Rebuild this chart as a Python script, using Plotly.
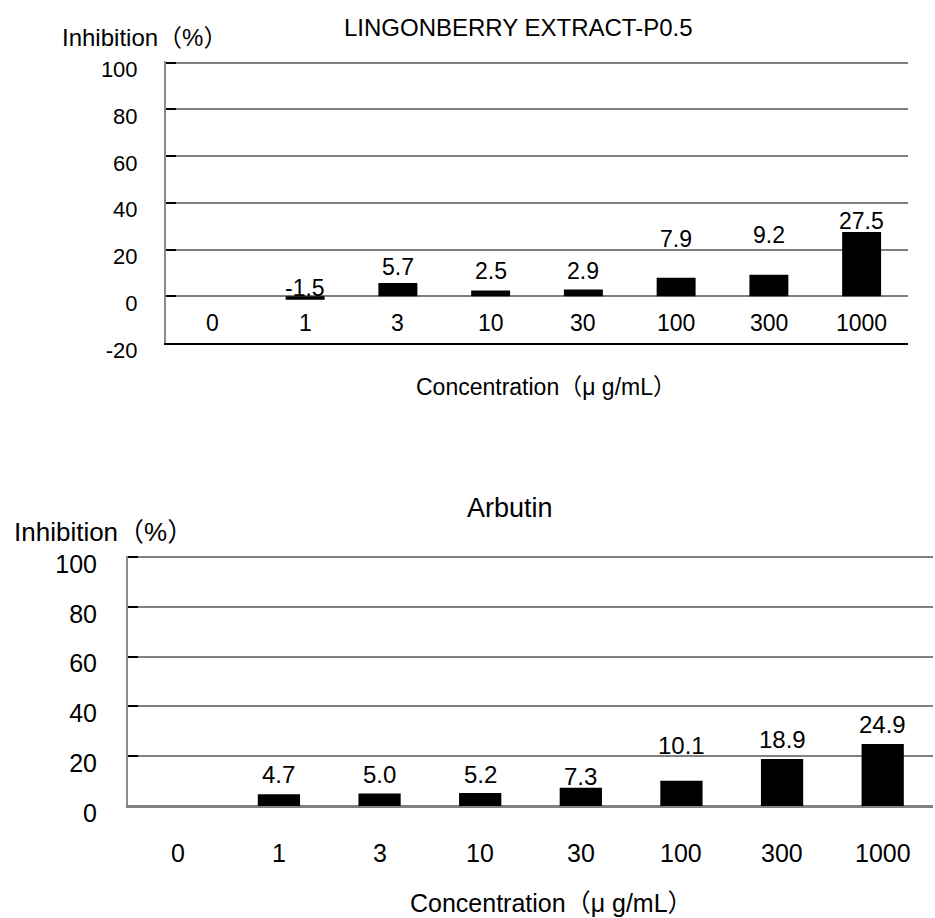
import plotly.graph_objects as go

# ---- data ----
categories = ["0", "1", "3", "10", "30", "100", "300", "1000"]
lingonberry = [None, -1.5, 5.7, 2.5, 2.9, 7.9, 9.2, 27.5]
arbutin = [None, 4.7, 5.0, 5.2, 7.3, 10.1, 18.9, 24.9]
y_ticks_top = [-20, 0, 20, 40, 60, 80, 100]
y_ticks_bottom = [0, 20, 40, 60, 80, 100]
title_top = "LINGONBERRY EXTRACT-P0.5"
title_bottom = "Arbutin"
y_title = "Inhibition（%）"
x_title = "Concentration（μ g/mL）"

# ---- style: pixel nudges for the value labels ----
shift_top = [0, 11.5, 15.7, 19, 18, 39, 39.5, 11]
shift_bottom = [0, 20, 19.5, 19, 11, 35, 19, 19]

W, H = 935, 918
FONT = "Liberation Sans, Arial, Noto Sans CJK JP, sans-serif"
GRID = "#808080"


def fx(px):
    return px / W


def fy(py):
    return 1 - py / H


fig = go.Figure()
fig.add_trace(go.Bar(x=categories, y=lingonberry, marker_color="black",
                     marker_line_width=0, xaxis="x", yaxis="y", hoverinfo="skip"))
fig.add_trace(go.Bar(x=categories, y=arbutin, marker_color="black",
                     marker_line_width=0, xaxis="x2", yaxis="y2", hoverinfo="skip"))

ann = []
# value labels
for i, (v, s) in enumerate(zip(lingonberry, shift_top)):
    if v is not None:
        ann.append(dict(x=i, y=v, xref="x", yref="y", text=f"{v:.1f}", showarrow=False,
                        yanchor="middle", yshift=s, font=dict(size=23, color="black")))
for i, (v, s) in enumerate(zip(arbutin, shift_bottom)):
    if v is not None:
        ann.append(dict(x=i, y=v, xref="x2", yref="y2", text=f"{v:.1f}", showarrow=False,
                        yanchor="middle", yshift=s, font=dict(size=24, color="black")))
# category labels
for i, c in enumerate(categories):
    ann.append(dict(x=i, y=-11.5, xref="x", yref="y", text=c, showarrow=False,
                    yanchor="middle", font=dict(size=23, color="black")))
    ann.append(dict(x=i, y=fy(853), xref="x2", yref="paper", text=c, showarrow=False,
                    yanchor="middle", font=dict(size=25, color="black")))
# titles
ann += [
    dict(x=fx(518), y=fy(27), xref="paper", yref="paper", text=title_top, showarrow=False,
         xanchor="center", yanchor="middle", font=dict(size=24, color="black")),
    dict(x=fx(60), y=fy(37), xref="paper", yref="paper", text=y_title, showarrow=False,
         xanchor="left", yanchor="middle", font=dict(size=24, color="black")),
    dict(x=fx(546), y=fy(387), xref="paper", yref="paper", text=x_title, showarrow=False,
         xanchor="center", yanchor="middle", font=dict(size=23, color="black")),
    dict(x=fx(510), y=fy(508), xref="paper", yref="paper", text=title_bottom, showarrow=False,
         xanchor="center", yanchor="middle", font=dict(size=27, color="black")),
    dict(x=fx(12), y=fy(532), xref="paper", yref="paper", text=y_title, showarrow=False,
         xanchor="left", yanchor="middle", font=dict(size=26, color="black")),
    dict(x=fx(551), y=fy(903), xref="paper", yref="paper", text=x_title, showarrow=False,
         xanchor="center", yanchor="middle", font=dict(size=25, color="black")),
]

yaxis_common = dict(showgrid=True, gridcolor=GRID, gridwidth=1.5,
                    showline=True, linecolor="#8c8c8c", linewidth=2,
                    ticks="inside", ticklen=10, tickwidth=2, tickcolor="black",
                    zeroline=True, zerolinecolor=GRID, zerolinewidth=1.5,
                    fixedrange=True, ticklabelshift=7, automargin=False)

# extend ranges a hair above 100 so the 100 gridline is drawn
top_hi, bot_hi = 100.5, 100.5
top_px100, top_pxm20 = 62.5, 343.0
bot_px100, bot_px0 = 557.0, 806.0
top_k = (top_pxm20 - top_px100) / 120.0
bot_k = (bot_px0 - bot_px100) / 100.0

fig.update_layout(
    width=W, height=H,
    margin=dict(l=0, r=0, t=0, b=0, autoexpand=False),
    paper_bgcolor="white", plot_bgcolor="white",
    showlegend=False, bargap=0.58,
    font=dict(family=FONT, color="black"),
    xaxis=dict(domain=[fx(166), fx(908)], anchor="y", type="category",
               range=[-0.5, 7.5], showticklabels=False, ticks="", showgrid=False,
               showline=True, linecolor="black", linewidth=2, zeroline=False,
               automargin=False, fixedrange=True),
    yaxis=dict(domain=[fy(top_pxm20), fy(top_px100 - (top_hi - 100) * top_k)], anchor="x",
               range=[-20, top_hi],
               tickvals=y_ticks_top, ticktext=[str(t) for t in y_ticks_top],
               tickfont=dict(size=22, color="black"), ticklabelstandoff=22,
               **yaxis_common),
    xaxis2=dict(domain=[fx(128), fx(933)], anchor="y2", type="category",
                range=[-0.5, 7.5], showticklabels=False, ticks="", showgrid=False,
                showline=True, linecolor=GRID, linewidth=1.5, zeroline=False,
                automargin=False, fixedrange=True),
    yaxis2=dict(domain=[fy(bot_px0), fy(bot_px100 - (bot_hi - 100) * bot_k)], anchor="x2",
                range=[0, bot_hi],
                tickvals=y_ticks_bottom, ticktext=[str(t) for t in y_ticks_bottom],
                tickfont=dict(size=25, color="black"), ticklabelstandoff=24,
                **yaxis_common),
    annotations=ann,
)

fig.write_html("out.html", config={"displayModeBar": False},
               post_script="document.body.style.margin='0';")
